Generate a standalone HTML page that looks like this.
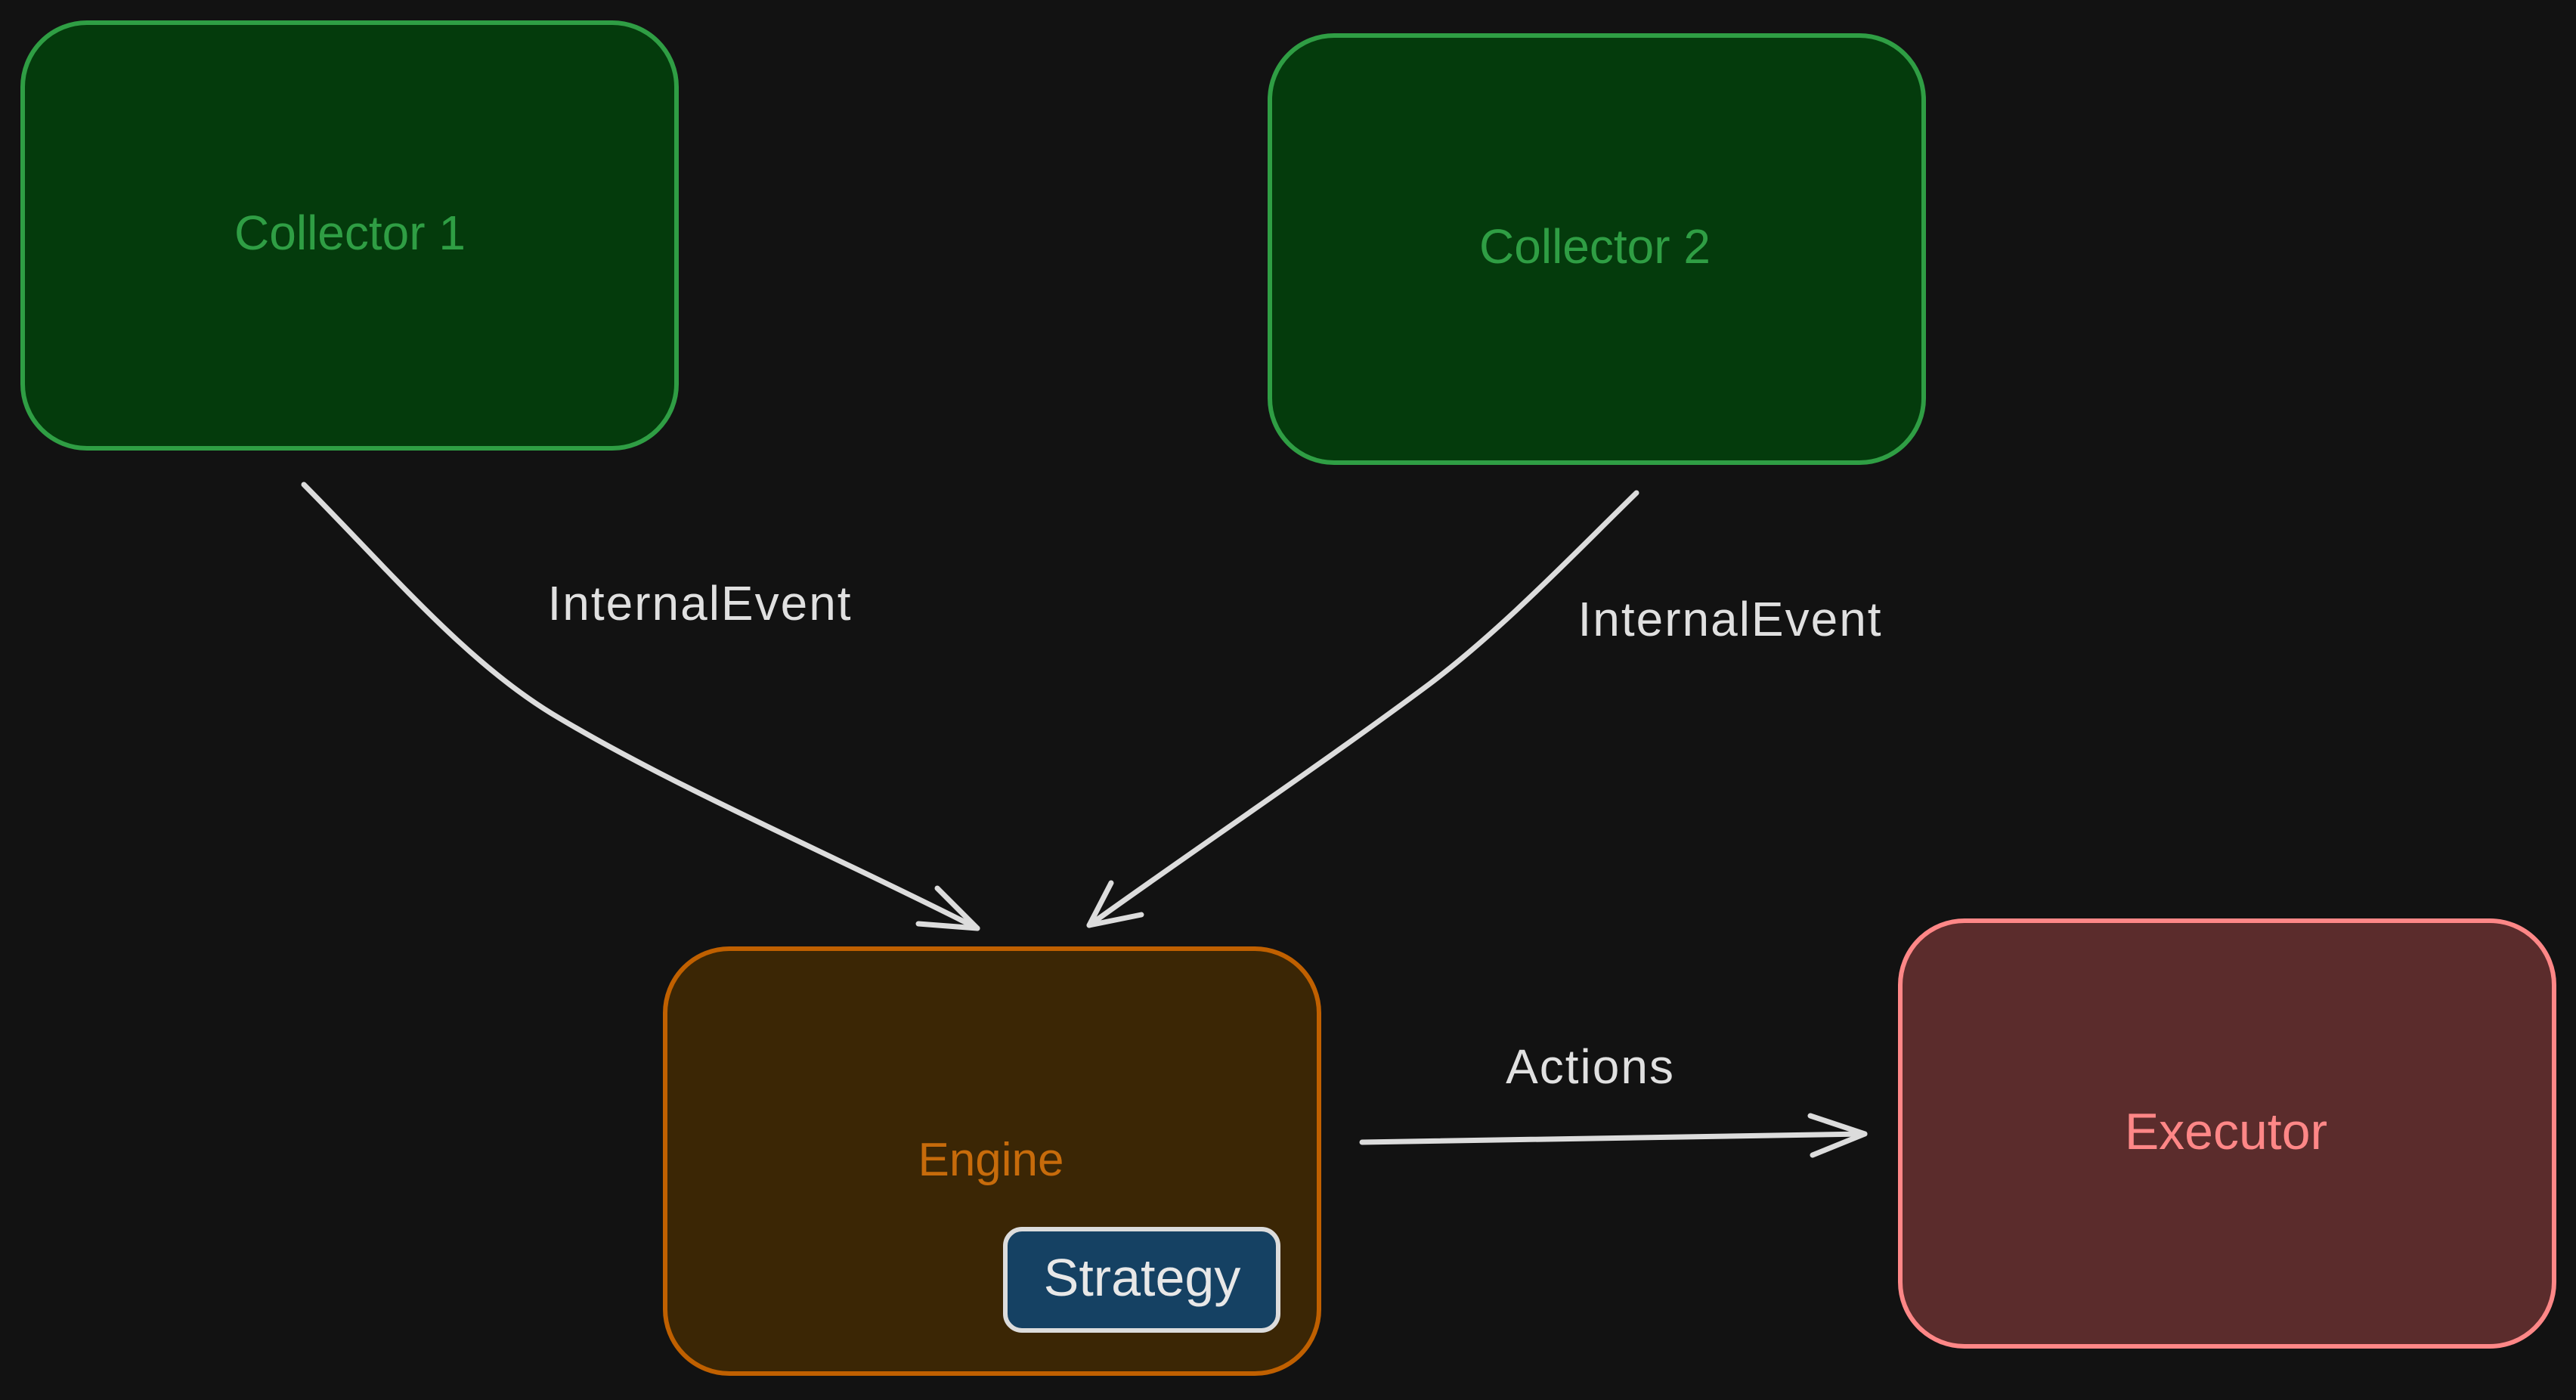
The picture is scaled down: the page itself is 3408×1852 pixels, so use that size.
<!DOCTYPE html>
<html><head><meta charset="utf-8"><style>
html,body{margin:0;padding:0;background:#121212;}
body{width:3408px;height:1847px;overflow:hidden;}
svg text{font-family:"Liberation Sans",sans-serif;}
</style></head><body>
<svg width="3408" height="1847" viewBox="0 0 3408 1847" xmlns="http://www.w3.org/2000/svg">
<rect width="3408" height="1847" fill="#121212"/>
<rect x="30" y="30" width="865" height="563" rx="85" fill="#043b0c" stroke="#2f9e44" stroke-width="6"/>
<text x="463" y="330" font-size="64" fill="#2f9e44" text-anchor="middle">Collector 1</text>
<rect x="1680" y="47" width="865" height="565" rx="85" fill="#043b0c" stroke="#2f9e44" stroke-width="6"/>
<text x="2110" y="348" font-size="64" fill="#2f9e44" text-anchor="middle">Collector 2</text>
<rect x="880" y="1255" width="865" height="562" rx="85" fill="#3b2605" stroke="#c06000" stroke-width="6"/>
<text x="1311" y="1555" font-size="62" fill="#c76b0b" text-anchor="middle">Engine</text>
<rect x="1330" y="1626" width="361" height="134" rx="22" fill="#154163" stroke="#dcdcdc" stroke-width="6"/>
<text x="1511" y="1714" font-size="70" fill="#e8e8e8" text-anchor="middle">Strategy</text>
<rect x="2514" y="1218" width="865" height="563" rx="85" fill="#5b2c2c" stroke="#ff8787" stroke-width="6"/>
<text x="2945" y="1520" font-size="68" fill="#ff8787" text-anchor="middle">Executor</text>
<g fill="none" stroke="#dcdcdc" stroke-width="7" stroke-linecap="round" stroke-linejoin="round">
<path d="M402 641 C 520 760, 620 880, 740 950 C 900 1045, 1100 1130, 1293 1228"/>
<path d="M1293 1228 L1240 1175 M1293 1228 L1215 1222"/>
<path d="M2165 652 C 2080 735, 1990 830, 1891 905 C 1750 1010, 1600 1110, 1441 1224"/>
<path d="M1441 1224 L1470 1168 M1441 1224 L1510 1210"/>
<path d="M1802 1511 L2467 1500"/>
<path d="M2467 1500 L2395 1476 M2467 1500 L2398 1528"/>
</g>
<text x="926" y="820" font-size="64" fill="#e0e0e0" text-anchor="middle" letter-spacing="2">InternalEvent</text>
<text x="2289" y="841" font-size="64" fill="#e0e0e0" text-anchor="middle" letter-spacing="2">InternalEvent</text>
<text x="2104" y="1433" font-size="64" fill="#e0e0e0" text-anchor="middle" letter-spacing="2">Actions</text>
</svg>
</body></html>
